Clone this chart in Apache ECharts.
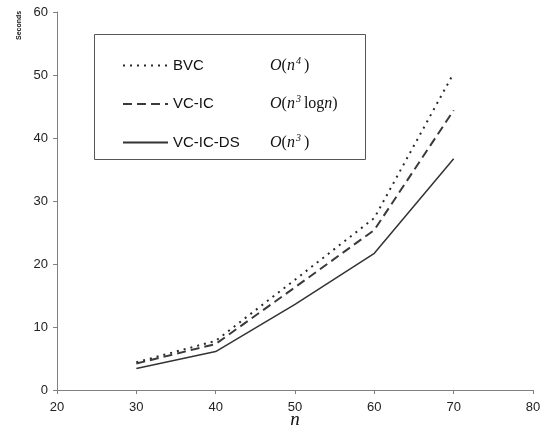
<!DOCTYPE html>
<html><head><meta charset="utf-8">
<script src="https://cdn.jsdelivr.net/npm/echarts@6/dist/echarts.min.js"></script>
<style>html,body{margin:0;padding:0;background:#fff}#c{width:553px;height:432px}</style>
</head><body><div id="c"></div>
<script>
var nValues = [30, 40, 50, 60, 70];
var bvc = [4.4, 7.8, 17.5, 27.3, 50.3];
var vcic = [4.2, 7.3, 16.3, 25.4, 44.4];
var vcicds = [3.4, 6.1, 13.6, 21.7, 36.7];
var seriesNames = ['BVC', 'VC-IC', 'VC-IC-DS'];
var complexities = ['{o|O}{p|(}{o|n}{s|4}{p|)}', '{o|O}{p|(}{o|n}{s|3}{p|log}{o|n}{p|)}', '{o|O}{p|(}{o|n}{s|3}{p|)}'];

function pairs(ys){ return nValues.map(function(x,i){ return [x, ys[i]]; }); }

var chart = echarts.init(document.getElementById('c'));
var lineCol = '#2a2a2a';
var serif = 'Liberation Serif, Times New Roman, serif';
var sans = 'Liberation Sans, Arial, sans-serif';
chart.setOption({
  animation: false,
  grid: {left: 57, right: 20, top: 12, bottom: 42, outerBoundsMode: 'none', containLabel: false},
  legend: {
    orient: 'vertical', left: 122, top: 56,
    padding: 0,
    itemGap: 21,
    itemWidth: 45, itemHeight: 10,
    itemStyle: {opacity: 0},
    data: seriesNames,
    formatter: function(name){
      var i = seriesNames.indexOf(name);
      return '{a|' + name + '}' + complexities[i];
    },
    textStyle: {
      fontFamily: sans, fontSize: 15, color: '#111',
      rich: {
        a: {fontFamily: sans, fontSize: 15, color: '#111', width: 97},
        o: {fontFamily: serif, fontStyle: 'italic', fontSize: 16, color: '#111'},
        p: {fontFamily: serif, fontSize: 16, color: '#111'},
        s: {fontFamily: serif, fontStyle: 'italic', fontSize: 10, color: '#111', padding: [0, 3, 9, 1]}
      }
    }
  },
  xAxis: {
    type: 'value', min: 20, max: 80, interval: 10,
    name: 'n', nameLocation: 'middle', nameGap: 20, nameMoveOverlap: false,
    nameTextStyle: {fontFamily: serif, fontStyle: 'italic', fontSize: 19, color: '#111'},
    axisLine: {lineStyle: {color: '#808080', width: 1}},
    axisTick: {show: true, length: 4, lineStyle: {color: '#808080'}},
    axisLabel: {fontFamily: sans, fontSize: 13, color: '#222', margin: 11},
    splitLine: {show: false}
  },
  yAxis: {
    type: 'value', min: 0, max: 60, interval: 10,
    axisLine: {show: true, lineStyle: {color: '#808080', width: 1}},
    axisTick: {show: true, length: 4, lineStyle: {color: '#808080'}},
    axisLabel: {fontFamily: sans, fontSize: 13, color: '#222', margin: 9},
    splitLine: {show: false}
  },
  graphic: [{
    type: 'rect', z: -1, shape: {x: 94.5, y: 34.5, width: 271, height: 125},
    style: {fill: '#fff', stroke: '#555', lineWidth: 1}
  }, {
    type: 'text', x: 16, y: 40, rotation: Math.PI / 2,
    style: {text: 'Seconds', fontFamily: sans, fontSize: 7, fontWeight: 'bold', fill: '#111'}
  }],
  series: [
    {name: seriesNames[0], type: 'line', data: pairs(bvc), symbol: 'none',
     lineStyle: {color: lineCol, width: 2, type: [2, 5]}, itemStyle: {color: lineCol}},
    {name: seriesNames[1], type: 'line', data: pairs(vcic), symbol: 'none',
     lineStyle: {color: '#3a3a3a', width: 2, type: [9, 5]}, itemStyle: {color: '#3a3a3a'}},
    {name: seriesNames[2], type: 'line', data: pairs(vcicds), symbol: 'none',
     lineStyle: {color: '#333', width: 1.5, type: 'solid'}, itemStyle: {color: '#333'}}
  ]
});
</script></body></html>
